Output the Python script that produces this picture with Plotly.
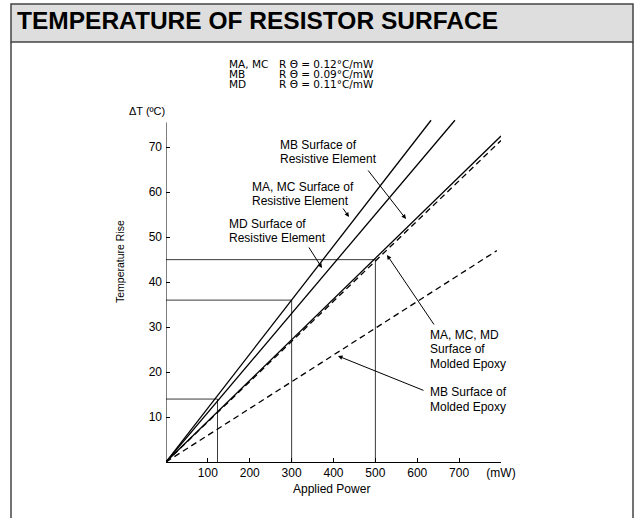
import plotly.graph_objects as go

# ---------------- data ----------------
power_end_ma_mc_elem = [0, 633]
rise_end_ma_mc_elem = [0, 76]
power_end_md_elem = [0, 690]
rise_end_md_elem = [0, 76]
power_end_mb_elem = [0, 800]
rise_end_mb_elem = [0, 72.5]
power_end_epoxy_mamcmd = [0, 800]
rise_end_epoxy_mamcmd = [0, 71.5]
power_end_epoxy_mb = [0, 790]
rise_end_epoxy_mb = [0, 47]

guide_power = [123, 300, 500]
guide_rise = [14, 36, 45]

x_tick_vals = [100, 200, 300, 400, 500, 600, 700, 800]
x_tick_text = ["100", "200", "300", "400", "500", "600", "700", "(mW)"]
y_tick_vals = [10, 20, 30, 40, 50, 60, 70]
y_tick_text = ["10", "20", "30", "40", "50", "60", "70"]

header_models = ["MA, MC", "MB", "MD"]
header_values = ["R \u0398 = 0.12\u00b0C/mW", "R \u0398 = 0.09\u00b0C/mW", "R \u0398 = 0.11\u00b0C/mW"]

# ---------------- layout geometry ----------------
W, H = 637, 518
L, R, T, B = 166, 136, 118, 56
PW, PH = W - L - R, H - T - B
FONT = "Liberation Sans, Arial, Helvetica, sans-serif"
HFONT = "DejaVu Sans, Liberation Sans, Arial, sans-serif"


def px(xp):
    return (xp - L) / PW


def py(yp):
    return (H - B - yp) / PH


fig = go.Figure()

# guide lines
for gx, gy in zip(guide_power, guide_rise):
    fig.add_trace(go.Scatter(x=[0, gx, gx], y=[gy, gy, 0], mode="lines",
                             line=dict(color="#3a3a3a", width=1), hoverinfo="skip"))

solid = dict(color="black", width=1.3)
dashed = dict(color="black", width=1.3, dash="6px,4px")
fig.add_trace(go.Scatter(x=power_end_ma_mc_elem, y=rise_end_ma_mc_elem, mode="lines", line=solid))
fig.add_trace(go.Scatter(x=power_end_md_elem, y=rise_end_md_elem, mode="lines", line=solid))
fig.add_trace(go.Scatter(x=power_end_mb_elem, y=rise_end_mb_elem, mode="lines", line=solid))
fig.add_trace(go.Scatter(x=power_end_epoxy_mamcmd, y=rise_end_epoxy_mamcmd, mode="lines", line=dashed))
fig.add_trace(go.Scatter(x=power_end_epoxy_mb, y=rise_end_epoxy_mb, mode="lines", line=dashed))

shapes = [
    # y axis line (up to 75.5)
    dict(type="line", xref="x", yref="y", x0=0, y0=0, x1=0, y1=75.5,
         line=dict(color="black", width=1)),
    # title bar and frame
    dict(type="rect", xref="paper", yref="paper", x0=px(11), x1=px(633), y0=py(4), y1=py(42),
         fillcolor="#dedede", line=dict(color="#444444", width=1.5), layer="below"),
    dict(type="line", xref="paper", yref="paper", x0=px(11), x1=px(11), y0=py(42), y1=py(520),
         line=dict(color="#444444", width=1.5)),
    dict(type="line", xref="paper", yref="paper", x0=px(633), x1=px(633), y0=py(42), y1=py(520),
         line=dict(color="#444444", width=1.5)),
]

ann = []


def text(t, xp, yp, size=12, anchor="left", family=FONT, **kw):
    ann.append(dict(text=t, xref="paper", yref="paper", x=px(xp), y=py(yp), xanchor=anchor,
                    yanchor="middle", showarrow=False,
                    font=dict(family=family, size=size, color="black"), **kw))


def arrow(tail, tip):
    ann.append(dict(text="", xref="paper", yref="paper", x=px(tip[0]), y=py(tip[1]),
                    axref="pixel", ayref="pixel", ax=tail[0] - tip[0], ay=tail[1] - tip[1],
                    showarrow=True, arrowhead=2, arrowsize=0.9, arrowwidth=1, arrowcolor="black",
                    standoff=0, startstandoff=0))


text("<b>TEMPERATURE OF RESISTOR SURFACE</b>", 15, 21, size=24.5)
for i, (m, v) in enumerate(zip(header_models, header_values)):
    text(m, 227, 64 + 9.8 * i, size=10.5, family=HFONT)
    text(v, 277, 64 + 9.8 * i, size=10.5, family=HFONT)
text("\u0394T (\u00baC)", 127, 111, size=11)

text("MB Surface of", 278, 145)
text("Resistive Element", 278, 159)
text("MA, MC Surface of", 250, 187)
text("Resistive Element", 250, 201)
text("MD Surface of", 227, 224)
text("Resistive Element", 227, 238)
text("MA, MC, MD", 428, 335)
text("Surface of", 428, 349)
text("Molded Epoxy", 428, 364)
text("MB Surface of", 428, 392)
text("Molded Epoxy", 428, 407)

arrow((367, 169), (406, 219))
arrow((342, 207), (349, 217))
arrow((308, 246), (322, 268))
arrow((435, 326), (387, 255))
arrow((425, 391), (338, 356))

text("Applied Power", 331, 489, size=12, anchor="center")
text("Temperature Rise", 120, 262, size=10.5, anchor="center", textangle=-90)

fig.update_layout(
    width=W, height=H, margin=dict(l=L, r=R, t=T, b=B),
    paper_bgcolor="white", plot_bgcolor="white", showlegend=False,
    font=dict(family=FONT, size=12, color="black"),
    shapes=shapes, annotations=ann,
    xaxis=dict(range=[0, 800], tickvals=x_tick_vals, ticktext=x_tick_text, ticks="inside",
               ticklen=4, tickcolor="black", showline=True, linecolor="black", linewidth=1,
               showgrid=False, zeroline=False, tickfont=dict(size=12)),
    yaxis=dict(range=[0, 76.5], tickvals=y_tick_vals, ticktext=y_tick_text, ticks="inside",
               ticklen=4, tickcolor="black", showline=False, showgrid=False, zeroline=False,
               tickfont=dict(size=12), ticklabelstandoff=3),
)

fig.write_html("out.html", config={"displayModeBar": False},
               post_script="document.body.style.margin='0px';document.body.style.overflow='hidden';")
